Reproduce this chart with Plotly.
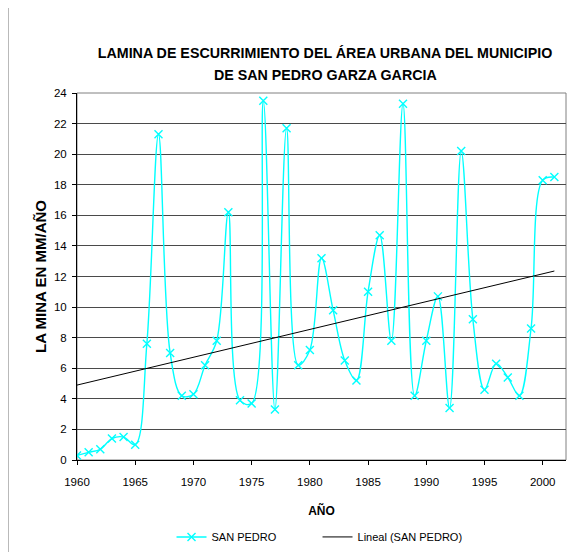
import numpy as np
import plotly.graph_objects as go

years = list(range(1960, 2002))
lamina = [0.3, 0.5, 0.7, 1.4, 1.5, 1.0, 7.6, 21.3, 7.0, 4.2,
          4.3, 6.2, 7.8, 16.2, 3.9, 3.7, 23.5, 3.3, 21.7, 6.2,
          7.2, 13.2, 9.8, 6.5, 5.2, 11.0, 14.7, 7.8, 23.3, 4.2,
          7.8, 10.7, 3.4, 20.2, 9.2, 4.6, 6.3, 5.4, 4.2, 8.6,
          18.3, 18.5]
x_ticks = list(range(1960, 2001, 5))
y_ticks = list(range(0, 25, 2))

slope, intercept = np.polyfit(years, lamina, 1)
trend_x = [years[0], years[-1]]
trend_y = [intercept + slope * v for v in trend_x]

# page body has an 8px margin, so the figure is 8px smaller and offset
OFF = 8
W, H = 577 - OFF, 552 - OFF
PL, PR, PT, PB = 77.3, 565.7, 92.7, 460.0   # plot area in screen pixels
L = PL - OFF
R = W - (PR - OFF)
T = PT - OFF
B = H - (PB - OFF)

def px(xs):
    return (xs - PL) / (PR - PL)

def py(ys):
    return (PB - ys) / (PB - PT)

FONT = "Liberation Sans, Arial, sans-serif"

fig = go.Figure()
fig.add_trace(go.Scatter(
    x=years, y=lamina, name="SAN PEDRO", mode="lines+markers",
    line=dict(color="#00FFFF", width=1.4, shape="spline", smoothing=1),
    marker=dict(symbol="x-thin", size=8, color="#00FFFF",
                line=dict(color="#00FFFF", width=1.4)),
))
fig.add_trace(go.Scatter(
    x=trend_x, y=trend_y, name="Lineal (SAN PEDRO)", mode="lines",
    line=dict(color="#000000", width=1),
))

fig.update_layout(
    width=W, height=H,
    margin=dict(l=L, r=R, t=T, b=B, autoexpand=False),
    paper_bgcolor="white", plot_bgcolor="white",
    font=dict(family=FONT, color="black", size=11.5),
    title=dict(text="<b>LAMINA DE ESCURRIMIENTO DEL ÁREA URBANA DEL MUNICIPIO</b>",
               x=(325 - OFF) / W, xanchor="center", xref="container",
               y=1 - (53 - OFF) / H, yanchor="middle", yref="container",
               font=dict(size=14.25, family=FONT)),
    annotations=[dict(text="<b>DE SAN PEDRO GARZA GARCIA</b>", xref="paper", yref="paper",
                      x=px(325), y=py(75), xanchor="center", yanchor="middle",
                      showarrow=False, font=dict(size=14.25, family=FONT))],
    xaxis=dict(range=[1960, 2002], tickvals=x_ticks, ticks="outside", ticklen=4,
               tickcolor="black", showline=True, linecolor="black", linewidth=1,
               showgrid=False, zeroline=False, automargin=False, ticklabelstandoff=7,
               title=dict(text="<b>AÑO</b>", font=dict(size=12), standoff=19)),
    yaxis=dict(range=[0, 24], tickvals=y_ticks, ticks="outside", ticklen=4,
               tickcolor="black", showline=True, linecolor="black", linewidth=1,
               showgrid=True, gridcolor="#4a4a4a", gridwidth=1.3, zeroline=False,
               automargin=False, ticklabelstandoff=3,
               title=dict(text="<b>LA MINA EN MM/AÑO</b>", font=dict(size=15), standoff=3)),
    legend=dict(orientation="h", x=px(171.7), xanchor="left", y=py(537), yanchor="middle",
                font=dict(size=11), entrywidth=101, entrywidthmode="pixels",
                bgcolor="rgba(0,0,0,0)"),
    shapes=[
        dict(type="rect", xref="paper", yref="paper", x0=0, x1=1, y0=0, y1=1,
             line=dict(color="#808080", width=1), layer="below"),
        dict(type="rect", xref="paper", yref="paper", x0=px(8), x1=px(640),
             y0=py(640), y1=py(7), line=dict(color="#404040", width=1.5)),
    ],
)

fig.write_html("out.html")
